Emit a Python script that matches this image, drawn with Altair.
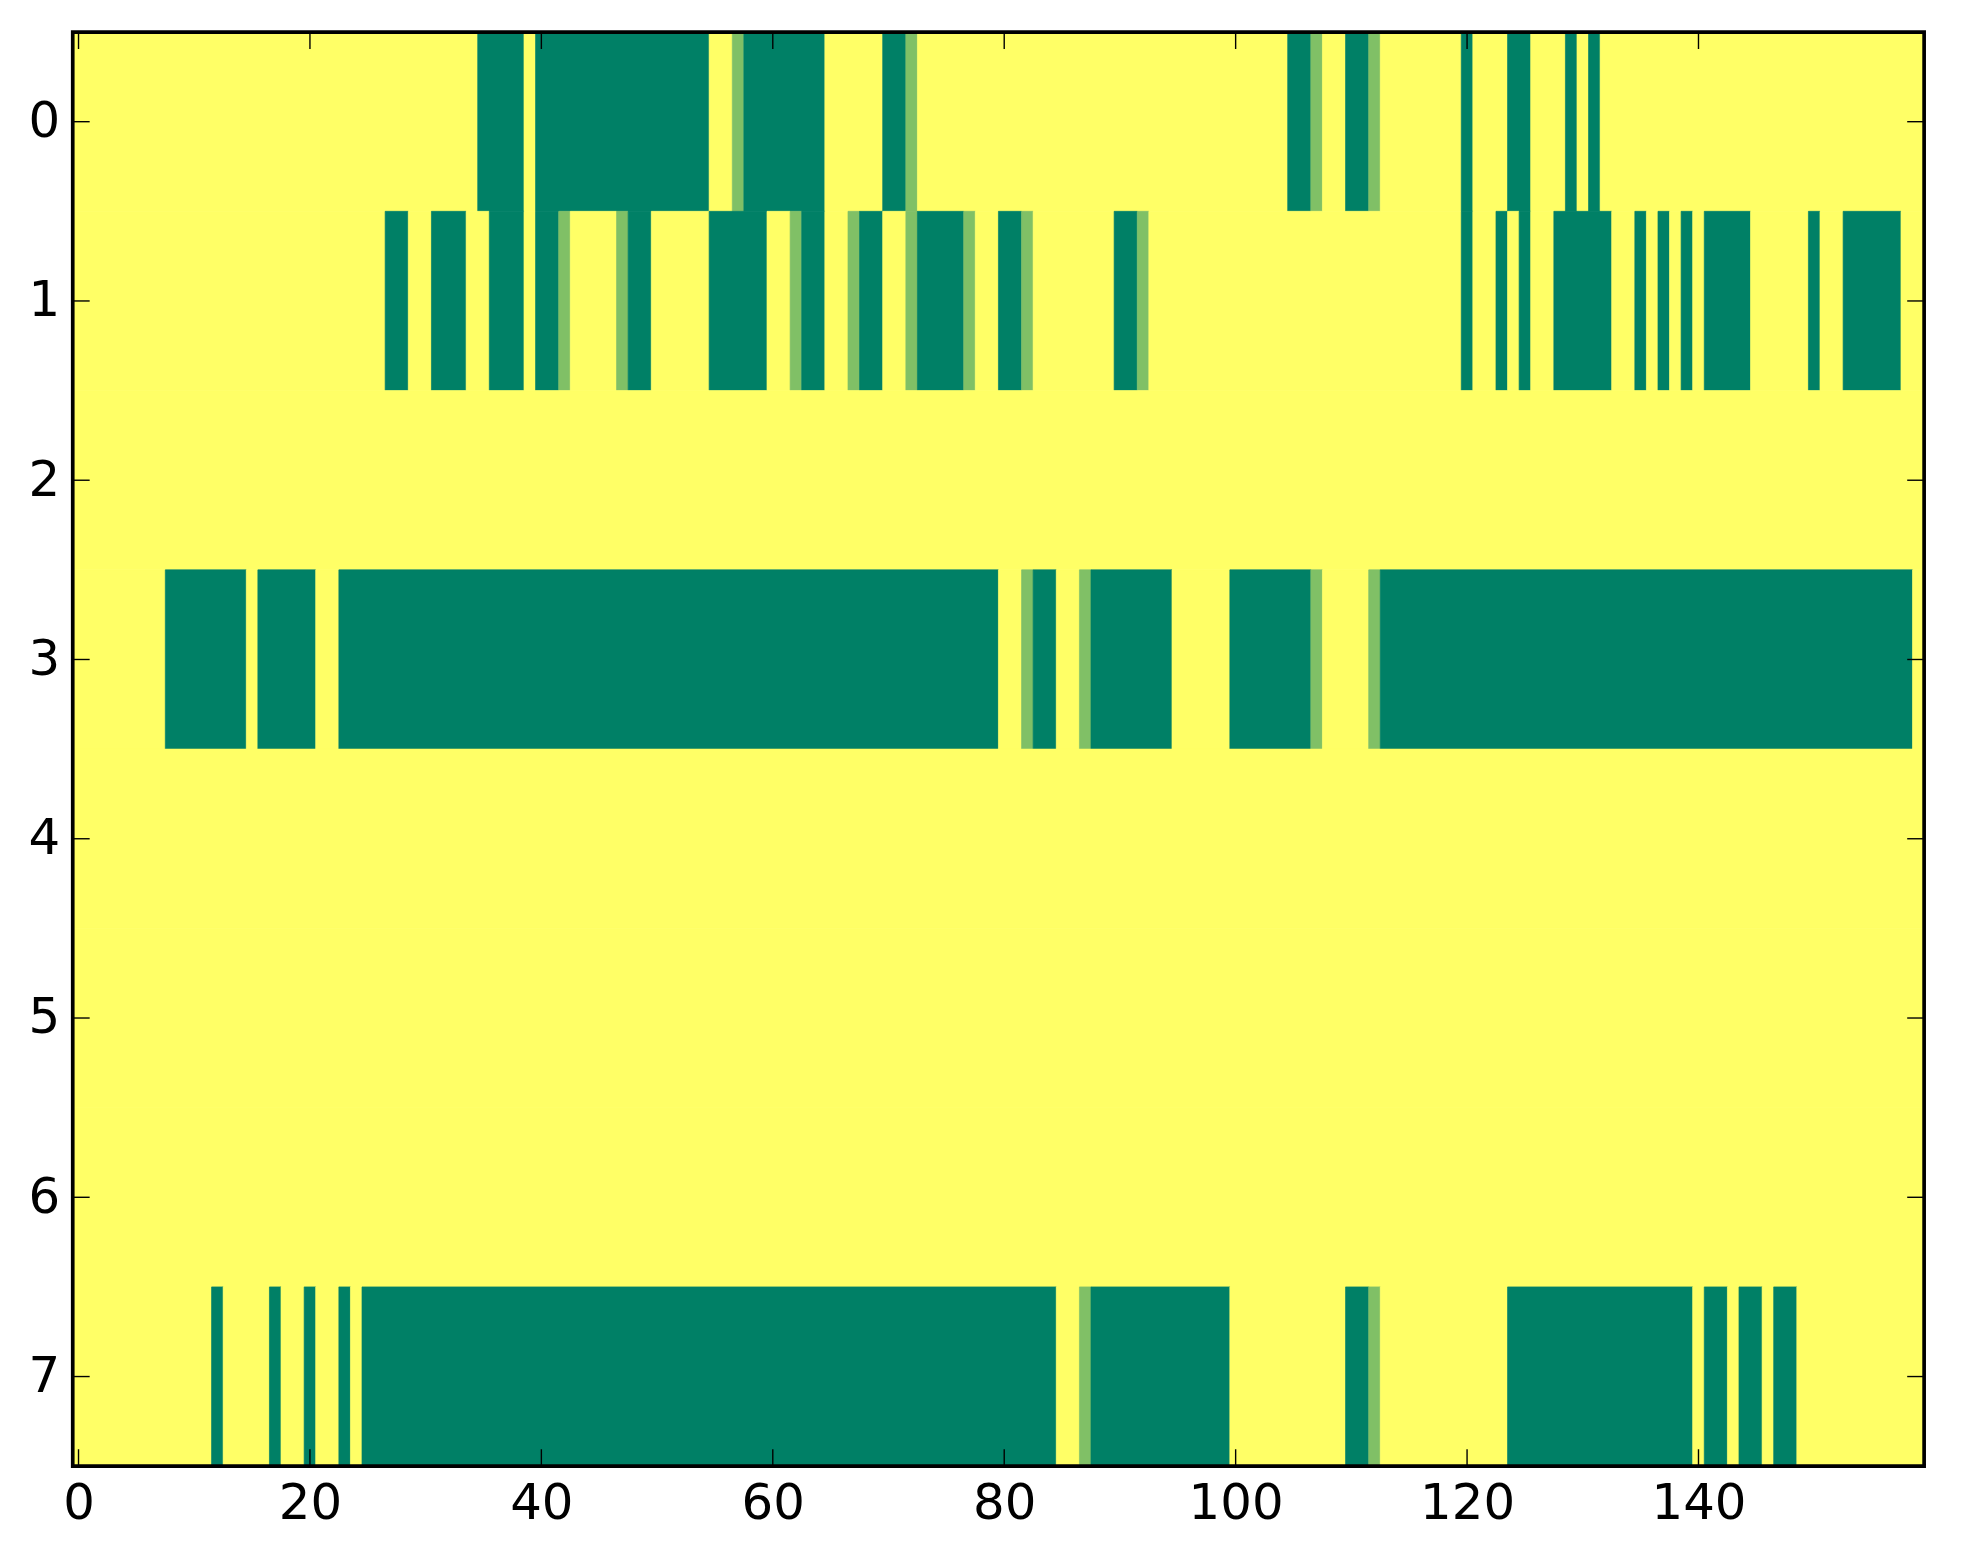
import altair as alt
import pandas as pd

N_COLS = 160
N_ROWS = 8

# green (value 0) column runs and light-green (value 0.5) columns per row; all other cells are 1
row0_green = [(35, 38), (40, 54), (58, 64), (70, 71), (105, 106), (110, 111), (120, 120), (124, 125), (129, 129), (131, 131)]
row0_light = [57, 72, 107, 112]
row1_green = [(27, 28), (31, 33), (36, 38), (40, 41), (48, 49), (55, 59), (63, 64), (68, 69), (73, 76), (80, 81), (90, 91),
              (120, 120), (123, 123), (125, 125), (128, 132), (135, 135), (137, 137), (139, 139), (141, 144), (150, 150), (153, 157)]
row1_light = [42, 47, 62, 67, 72, 77, 82, 92]
row3_green = [(8, 14), (16, 20), (23, 79), (83, 84), (88, 94), (100, 106), (113, 158)]
row3_light = [82, 87, 107, 112]
row7_green = [(12, 12), (17, 17), (20, 20), (23, 23), (25, 84), (88, 99), (110, 111), (124, 139), (141, 142), (144, 145), (147, 148)]
row7_light = [87, 112]

x_ticks = [0, 20, 40, 60, 80, 100, 120, 140]
y_ticks = [0, 1, 2, 3, 4, 5, 6, 7]

green_by_row = {0: row0_green, 1: row1_green, 3: row3_green, 7: row7_green}
light_by_row = {0: row0_light, 1: row1_light, 3: row3_light, 7: row7_light}

grid = [[1.0] * N_COLS for _ in range(N_ROWS)]
for r, runs in green_by_row.items():
    for a, b in runs:
        for c in range(a, b + 1):
            grid[r][c] = 0.0
for r, cols in light_by_row.items():
    for c in cols:
        grid[r][c] = 0.5

recs = []
for r in range(N_ROWS):
    start = 0
    for c in range(1, N_COLS + 1):
        if c == N_COLS or grid[r][c] != grid[r][start]:
            recs.append({"x0": start - 0.5, "x1": c - 0.5, "y0": r - 0.5, "y1": r + 0.5, "v": grid[r][start]})
            start = c
df = pd.DataFrame(recs)

W, H = 1859, 1440
TICK = 17
FONT = "DejaVu Sans"
FS = 50

xscale = alt.Scale(domain=[-0.5, N_COLS - 0.5], nice=False, zero=False)
yscale = alt.Scale(domain=[-0.5, N_ROWS - 0.5], nice=False, zero=False, reverse=True)
cscale = alt.Scale(domain=[0, 1], range=["#008066", "#ffff66"], interpolate="rgb")

heat = alt.Chart(df).mark_rect(strokeWidth=0.7).encode(
    x=alt.X("x0:Q", scale=xscale,
            axis=alt.Axis(values=x_ticks, format="d", title=None, grid=False, domain=False, ticks=False,
                          labelFontSize=FS, labelFont=FONT, labelColor="black", labelPadding=13)),
    x2="x1:Q",
    y=alt.Y("y0:Q", scale=yscale,
            axis=alt.Axis(values=y_ticks, format="d", title=None, grid=False, domain=False, ticks=False,
                          labelFontSize=FS, labelFont=FONT, labelColor="black", labelPadding=13)),
    y2="y1:Q",
    color=alt.Color("v:Q", scale=cscale, legend=None),
    stroke=alt.Stroke("v:Q", scale=cscale, legend=None),
)

xt = pd.DataFrame({"t": x_ticks})
yt = pd.DataFrame({"t": y_ticks})

xbot = alt.Chart(xt).mark_rule(color="black", strokeWidth=1.4).encode(
    x=alt.X("t:Q", scale=xscale), y=alt.value(H), y2=alt.value(H - TICK))
xtop = alt.Chart(xt).mark_rule(color="black", strokeWidth=1.4).encode(
    x=alt.X("t:Q", scale=xscale), y=alt.value(0), y2=alt.value(TICK))
yleft = alt.Chart(yt).mark_rule(color="black", strokeWidth=1.4).encode(
    y=alt.Y("t:Q", scale=yscale), x=alt.value(0), x2=alt.value(TICK))
yright = alt.Chart(yt).mark_rule(color="black", strokeWidth=1.4).encode(
    y=alt.Y("t:Q", scale=yscale), x=alt.value(W), x2=alt.value(W - TICK))

frame = alt.Chart(pd.DataFrame({"a": [0]})).mark_rect(filled=False, stroke="black", strokeWidth=3.7).encode(
    x=alt.value(0), x2=alt.value(W), y=alt.value(0), y2=alt.value(H))

chart = alt.layer(heat, xbot, xtop, yleft, yright, frame).resolve_scale(color="shared").properties(
    width=W, height=H,
    autosize=alt.AutoSizeParams(type="none"),
    padding={"left": 65, "top": 21, "right": 31, "bottom": 80},
).configure_view(strokeWidth=0).configure(background="white")

chart.save("out.html", embed_options={"renderer": "svg", "actions": False})
